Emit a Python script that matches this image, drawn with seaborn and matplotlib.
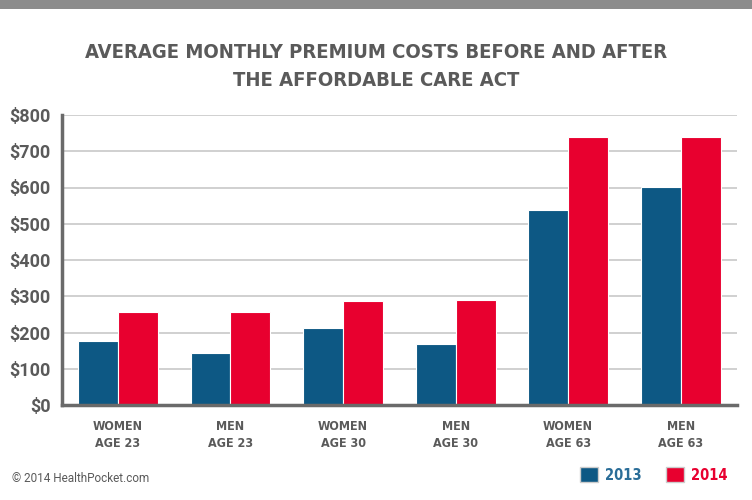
import matplotlib
matplotlib.use("Agg")
import matplotlib.pyplot as plt
import seaborn as sns
import pandas as pd
import numpy as np
from matplotlib.patches import Patch, Rectangle

# data
groups = ["WOMEN\nAGE 23", "MEN\nAGE 23", "WOMEN\nAGE 30", "MEN\nAGE 30", "WOMEN\nAGE 63", "MEN\nAGE 63"]
cost_2013 = [176, 143, 212, 168, 538, 602]
cost_2014 = [257, 257, 288, 291, 739, 739]
years = ["2013", "2014"]
yticks = [0, 100, 200, 300, 400, 500, 600, 700, 800]

BLUE = "#0d5884"
RED = "#e8002f"
GREY = "#5a5a5a"

df = pd.DataFrame({
    "group": groups * 2,
    "year": [years[0]] * len(groups) + [years[1]] * len(groups),
    "cost": cost_2013 + cost_2014,
})

sns.set_theme(style="white")
plt.rcParams["font.family"] = ["Roboto", "DejaVu Sans"]
narrow = ["DejaVu Sans", "Roboto"]

fig = plt.figure(figsize=(7.52, 5.0), dpi=100)
ax = fig.add_axes([0.082, 0.19, 0.898, 0.58])

sns.barplot(data=df, x="group", y="cost", hue="year", palette=[BLUE, RED],
            saturation=1, width=0.71, gap=0, edgecolor="white", linewidth=0.8,
            legend=False, ax=ax, zorder=3)

ax.set_ylim(0, 800)
ax.set_xlim(-0.5, len(groups) - 0.5)
ax.set_yticks(yticks)
ax.set_yticklabels(["$%d" % v for v in yticks], fontsize=13, fontweight="bold", color=GREY)
ax.yaxis.grid(True, color="#d0d0d0", linewidth=1.4, zorder=0)
ax.xaxis.grid(False)
ax.set_xlabel("")
ax.set_ylabel("")

ax.set_xticks(range(len(groups)))
ax.set_xticklabels(groups, fontsize=9, fontweight="bold", color=GREY,
                   family=narrow, fontstretch="condensed", linespacing=1.35)
ax.set_xticks(np.arange(0.5, len(groups) - 1, 1), minor=True)
ax.tick_params(axis="x", which="major", length=0, pad=11)
ax.tick_params(axis="x", which="minor", length=11, width=1, color="#c8c8c8", direction="out")
ax.tick_params(axis="y", length=0, pad=8)

for side in ["top", "right"]:
    ax.spines[side].set_visible(False)
for side in ["left", "bottom"]:
    ax.spines[side].set_color("#6a6a6a")
    ax.spines[side].set_linewidth(2.5)
    ax.spines[side].set_zorder(4)

# grey band on top
fig.patches.append(Rectangle((0, 0.982), 1, 0.018, transform=fig.transFigure,
                             facecolor="#8c8c8c", edgecolor="none"))

fig.text(0.5, 0.867, "AVERAGE MONTHLY PREMIUM COSTS BEFORE AND AFTER\nTHE AFFORDABLE CARE ACT",
         ha="center", va="center", fontsize=14.5, fontweight="bold", color=GREY,
         family=narrow, fontstretch="condensed", linespacing=1.55)

fig.text(0.016, 0.042, "\u00a9 2014 HealthPocket.com", ha="left", va="center",
         fontsize=8.5, color=GREY)

handles = [Patch(facecolor=BLUE, edgecolor="#cccccc"), Patch(facecolor=RED, edgecolor="#cccccc")]
leg = fig.legend(handles, years, loc="center right", bbox_to_anchor=(0.985, 0.05),
                 ncol=2, frameon=False, handlelength=1.2, handleheight=1.2,
                 handletextpad=0.5, columnspacing=1.7,
                 prop={"family": narrow, "size": 10.5, "weight": "bold", "stretch": "condensed"})
for txt, c in zip(leg.get_texts(), ["#2a6d98", RED]):
    txt.set_color(c)

fig.savefig("out.png", dpi=100)
